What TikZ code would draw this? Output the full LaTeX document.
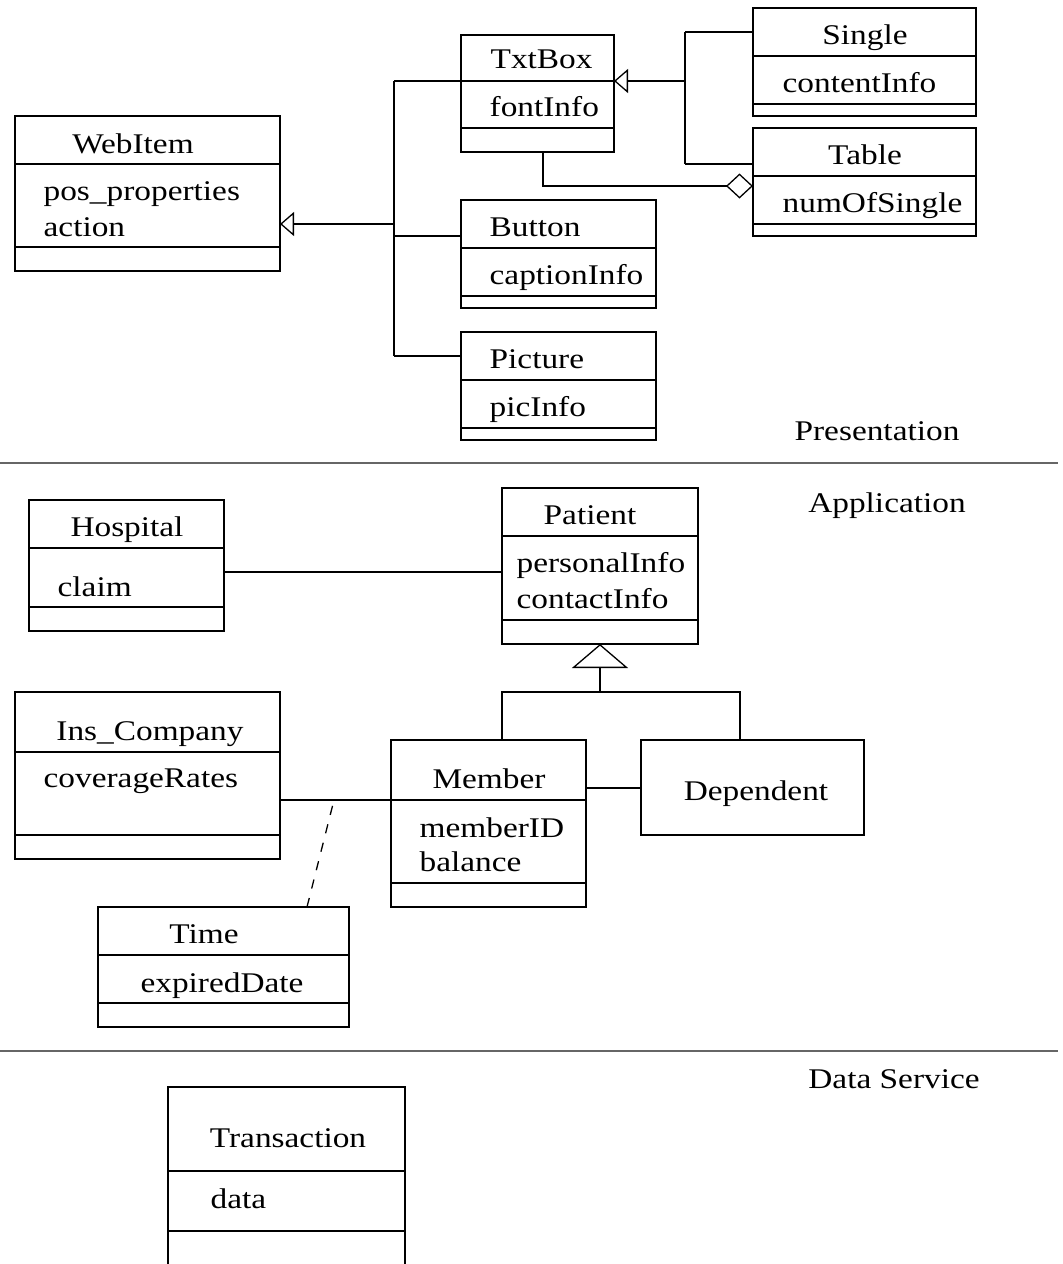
\documentclass[tikz,border=0pt]{standalone}
\usepackage{fontspec}
\setmainfont[FakeStretch=1.17]{Liberation Serif}
\usetikzlibrary{arrows.meta}
\newcommand\umlbox[5]{\node[cls, minimum width=#4pt, minimum height=#5pt] (#1) at (#2,#3) {};}
\newcommand\umldiv[2]{\draw (#1.west |- 0,#2) -- (#1.east |- 0,#2);}
\begin{document}
\begin{tikzpicture}[x=1pt,y=-1pt,
  line width=1.3pt,
  cls/.style={draw, anchor=north west, inner sep=0pt, outer sep=0pt},
  lbl/.style={font=\fontsize{28.5}{32}\selectfont, inner sep=0pt, anchor=base},
  attr/.style={font=\fontsize{28.5}{32}\selectfont, inner sep=0pt, anchor=base west},
  gen/.style={-{Triangle[open,length=14pt,width=24pt]}},
  biggen/.style={-{Triangle[open,length=24pt,width=56pt]}},
  agg/.style={-{Diamond[open,length=27pt,width=25pt]}},
  sepline/.style={draw=black!60, line width=1.6pt},
  dep/.style={dash pattern=on 9.3pt off 9.7pt}
]
\useasboundingbox (0,0) rectangle (1063,1264);

% ---------- Presentation ----------
\umlbox{webitem}{15}{116}{265}{155}
\umldiv{webitem}{164}\umldiv{webitem}{247}
\node[lbl] (webitemT) at (133,153) {WebItem};
\node[attr] (webitemA) at (43,200) {pos\_properties};
\node[attr] (webitemB) at (43,236) {action};

\umlbox{txtbox}{461}{35}{153}{117}
\umldiv{txtbox}{81}\umldiv{txtbox}{128}
\node[attr] (txtboxT) at (490,68) {TxtBox};
\node[attr] (txtboxA) at (489,116) {fontInfo};

\umlbox{single}{753}{8}{223}{108}
\umldiv{single}{56}\umldiv{single}{104}
\node[lbl] (singleT) at (865,44) {Single};
\node[attr] (singleA) at (782,92) {contentInfo};

\umlbox{table}{753}{128}{223}{108}
\umldiv{table}{176}\umldiv{table}{224}
\node[lbl] (tableT) at (865,164) {Table};
\node[attr] (tableA) at (782,212) {numOfSingle};

\umlbox{button}{461}{200}{195}{108}
\umldiv{button}{248}\umldiv{button}{296}
\node[attr] (buttonT) at (489,236) {Button};
\node[attr] (buttonA) at (489,284) {captionInfo};

\umlbox{picture}{461}{332}{195}{108}
\umldiv{picture}{380}\umldiv{picture}{428}
\node[attr] (pictureT) at (489,368) {Picture};
\node[attr] (pictureA) at (489,416) {picInfo};

% generalisation to WebItem
\coordinate (wj) at (394,224);
\coordinate (wtop) at (394,81);
\coordinate (wbtn) at (394,236);
\coordinate (wpic) at (394,356);
\draw[gen] (wj) -- (wj -| webitem.east);
\draw (wtop) -- (wpic);
\draw (wtop) -- (wtop -| txtbox.west);
\draw (wbtn) -- (wbtn -| button.west);
\draw (wpic) -- (wpic -| picture.west);

% generalisation to TxtBox
\coordinate (tj) at (685,81);
\coordinate (ttop) at (685,32);
\coordinate (tbot) at (685,164);
\draw[gen] (tj) -- (tj -| txtbox.east);
\draw (ttop) -- (tbot);
\draw (ttop) -- (ttop -| single.west);
\draw (tbot) -- (tbot -| table.west);

% aggregation TxtBox -- Table
\coordinate (ag) at (543,186);
\draw[agg] ([xshift=5.5pt]txtbox.south) |- (ag -| table.west);

\node[lbl] (presT) at (877,440) {Presentation};
\draw[sepline] (0,463) -- (1058,463);

% ---------- Application ----------
\node[lbl] (appT) at (887,512) {Application};

\umlbox{hospital}{29}{500}{195}{131}
\umldiv{hospital}{548}\umldiv{hospital}{607}
\node[lbl] (hospitalT) at (127,536) {Hospital};
\node[attr] (hospitalA) at (57,596) {claim};

\umlbox{patient}{502}{488}{196}{156}
\umldiv{patient}{536}\umldiv{patient}{620}
\node[lbl] (patientT) at (590,524) {Patient};
\node[attr] (patientA) at (516,572) {personalInfo};
\node[attr] (patientB) at (516,608) {contactInfo};

\coordinate (hp) at (0,572);
\draw (hospital.east |- hp) -- (patient.west |- hp);

\umlbox{inscomp}{15}{692}{265}{167}
\umldiv{inscomp}{752}\umldiv{inscomp}{835}
\node[lbl] (inscompT) at (150,740) {Ins\_Company};
\node[attr] (inscompA) at (43,787) {coverageRates};

\umlbox{member}{391}{740}{195}{167}
\umldiv{member}{800}\umldiv{member}{883}
\node[lbl] (memberT) at (489,788) {Member};
\node[attr] (memberA) at (419,837) {memberID};
\node[attr] (memberB) at (419,871) {balance};

\umlbox{dependent}{641}{740}{223}{95}
\node[lbl] (dependentT) at (756,800) {Dependent};

% generalisation to Patient
\coordinate (pj) at (600,692);
\draw[biggen] (pj) -- (patient.south);
\draw ([xshift=13.5pt]member.north) |- (pj) -| ([xshift=-12.5pt]dependent.north);

% associations
\coordinate (md) at (0,788);
\draw (member.east |- md) -- (dependent.west |- md);
\coordinate (im) at (0,800);
\draw (inscomp.east |- im) -- (member.west |- im);

\umlbox{time}{98}{907}{251}{120}
\umldiv{time}{955}\umldiv{time}{1003}
\node[lbl] (timeT) at (204,943) {Time};
\node[lbl] (timeA) at (222,992) {expiredDate};

\coordinate (assoc) at (334,800);
\draw[dep] ([xshift=83.5pt]time.north) -- (assoc);

\draw[sepline] (0,1051) -- (1058,1051);

% ---------- Data Service ----------
\node[lbl] (dataT) at (894,1088) {Data Service};

\umlbox{transaction}{168}{1087}{237}{190}
\umldiv{transaction}{1171}\umldiv{transaction}{1231}
\node[lbl] (transactionT) at (288,1147) {Transaction};
\node[attr] (transactionA) at (210,1208) {data};
\end{tikzpicture}
\end{document}
